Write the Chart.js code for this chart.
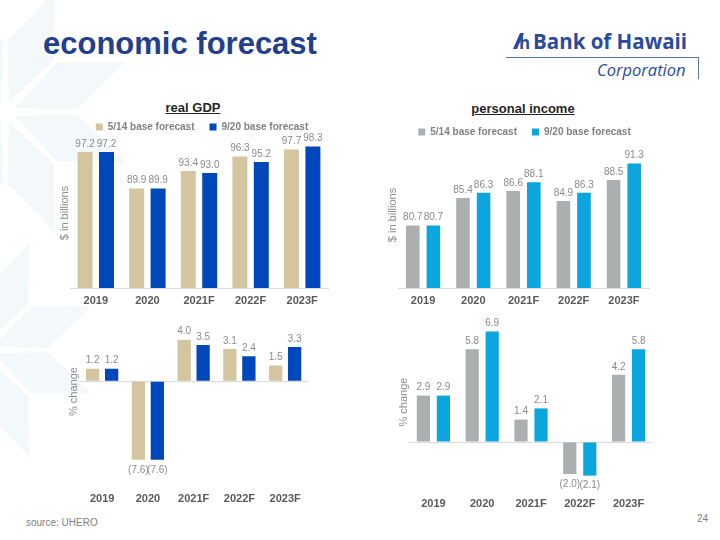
<!DOCTYPE html>
<html>
<head>
<meta charset="utf-8">
<script src="https://cdn.jsdelivr.net/npm/chart.js@4.4.0/dist/chart.umd.min.js"></script>
<style>
  body { margin: 0; background: #fff; }
  #page { position: relative; width: 720px; height: 540px; overflow: hidden; font-family: "Liberation Sans", Arial, sans-serif; }
  canvas { position: absolute; }
  .abs { position: absolute; white-space: nowrap; }
  .ctitle { font-weight: bold; font-size: 13px; color: #262626; text-decoration: underline; transform: translateX(-50%); }
</style>
</head>
<body>
<div id="page">
  <svg id="deco" class="abs" style="left:0; top:0;" width="200" height="460"></svg>

  <div class="abs" style="left:43px; top:26px; font-size:31px; font-weight:bold; color:#233e8b;">economic forecast</div>

  <!-- logo -->
  <svg class="abs" style="left:511px; top:31px;" width="22" height="20">
    <polygon points="2,18 6,18 13,2 9,2" fill="#2a4b9b"/>
    <text x="8" y="18" font-family="Open Sans" font-weight="bold" font-size="17" fill="#2a4b9b">h</text>
  </svg>
  <div class="abs" style="left:533px; top:27px; font-family:'Open Sans'; font-weight:bold; font-size:20.5px; color:#2a4b9b;">Bank of Hawaii</div>
  <div class="abs" style="left:506px; top:57px; width:192px; height:1px; background:#5a74ad;"></div>
  <div class="abs" style="left:698px; top:57px; width:1px; height:22px; background:#5a74ad;"></div>
  <div class="abs" style="left:597px; top:58px; font-family:'Open Sans'; font-style:italic; font-size:16.5px; color:#2a4b9b;">Corporation</div>

  <div class="abs ctitle" style="left:193px; top:100px;">real GDP</div>
  <div class="abs ctitle" style="left:523px; top:101px;">personal income</div>

  <canvas id="gdp" width="278" height="203" style="left:54px; top:107px;"></canvas>
  <canvas id="inc" width="271" height="198" style="left:382px; top:112px;"></canvas>
  <canvas id="gdpChg" width="267" height="203" style="left:62px; top:305px;"></canvas>
  <canvas id="incChg" width="264" height="213" style="left:393px; top:300px;"></canvas>

  <div class="abs" style="left:26px; top:517px; font-size:10px; color:#7f7f7f;">source: UHERO</div>
  <div class="abs" style="left:697px; top:513px; font-size:10px; color:#7f7f7f;">24</div>
</div>
<script>
// categories and series
const years = ["2019", "2020", "2021F", "2022F", "2023F"];
const seriesNames = ["5/14 base forecast", "9/20 base forecast"];

const gdpMay = [97.2, 89.9, 93.4, 96.3, 97.7];
const gdpSep = [97.2, 89.9, 93.0, 95.2, 98.3];
const gdpChgMay = [1.2, -7.6, 4.0, 3.1, 1.5];
const gdpChgSep = [1.2, -7.6, 3.5, 2.4, 3.3];

const incMay = [80.7, 85.4, 86.6, 84.9, 88.5];
const incSep = [80.7, 86.3, 88.1, 86.3, 91.3];
const incChgMay = [2.9, 5.8, 1.4, -2.0, 4.2];
const incChgSep = [2.9, 6.9, 2.1, -2.1, 5.8];

// faint star pattern in the corner of the slide
(function () {
    const svg = document.getElementById("deco");
    let html = "";
    [[5, 112, 130], [-15, 350, 115]].forEach(([cx, cy, R]) => {
        for (let k = 0; k < 8; k++) {
            const t = k * Math.PI / 4 - Math.PI / 8;
            const d = 0.36, r = R * 0.55, r0 = R * 0.08;
            const p = [
                [cx + r0 * Math.cos(t), cy + r0 * Math.sin(t)],
                [cx + r * Math.cos(t - d), cy + r * Math.sin(t - d)],
                [cx + R * Math.cos(t), cy + R * Math.sin(t)],
                [cx + r * Math.cos(t + d), cy + r * Math.sin(t + d)]
            ];
            html += '<polygon fill="#f3f8fa" points="' + p.map(q => q.join(",")).join(" ") + '"/>';
        }
    });
    svg.innerHTML = html;
})();

Chart.defaults.font.family = '"Liberation Sans", Arial, sans-serif';
Chart.defaults.animation = false;

// numbers over / under the bars
const valueLabels = {
    id: "valueLabels",
    afterDatasetsDraw(chart) {
        const ctx = chart.ctx;
        ctx.save();
        ctx.font = '10px "Liberation Sans", Arial, sans-serif';
        ctx.fillStyle = "#8a8a8a";
        ctx.textAlign = "center";
        chart.data.datasets.forEach((ds, i) => {
            chart.getDatasetMeta(i).data.forEach((bar, j) => {
                const v = ds.data[j];
                if (v >= 0) {
                    ctx.textBaseline = "bottom";
                    ctx.fillText(v.toFixed(1), bar.x, bar.y - 3);
                } else {
                    ctx.textBaseline = "top";
                    ctx.fillText("(" + Math.abs(v).toFixed(1) + ")", bar.x, bar.y + 5);
                }
            });
        });
        ctx.restore();
    }
};

// nudge the legend row sideways
const legendShift = {
    id: "legendShift",
    afterLayout(chart, args, opts) {
        if (chart.legend && opts.dx) {
            chart.legend.left += opts.dx;
            chart.legend.right += opts.dx;
        }
    }
};

function barChart(id, a, b, colors, o) {
    return new Chart(document.getElementById(id), {
        type: "bar",
        data: {
            labels: years,
            datasets: [
                { label: seriesNames[0], data: a, backgroundColor: colors[0],
                  barPercentage: o.barPct, categoryPercentage: o.catPct },
                { label: seriesNames[1], data: b, backgroundColor: colors[1],
                  barPercentage: o.barPct, categoryPercentage: o.catPct }
            ]
        },
        options: {
            responsive: false,
            layout: { padding: { top: o.padTop, right: 4, left: 0, bottom: 0 } },
            plugins: {
                tooltip: { enabled: false },
                legendShift: { dx: o.legendDx || 0 },
                legend: {
                    display: o.legend,
                    maxHeight: o.legendH,
                    labels: {
                        boxWidth: 7, boxHeight: 7, padding: 15,
                        color: "#808080",
                        font: { size: 10, weight: "bold" }
                    }
                }
            },
            scales: {
                x: {
                    grid: { display: false, drawTicks: false, tickLength: 0 },
                    border: { display: !o.zero, color: "#d9d9d9" },
                    ticks: { color: "#595959", font: { size: 11, weight: "bold" }, padding: o.xPad },
                    afterFit: s => { s.height = o.xPad + 16; }
                },
                y: {
                    min: o.min, max: o.max,
                    ticks: { display: false, stepSize: o.step },
                    border: { display: false },
                    grid: {
                        display: o.zero,
                        drawTicks: false,
                        color: c => (c.tick && c.tick.value === 0) ? "#d9d9d9" : "rgba(0,0,0,0)"
                    },
                    title: { display: true, text: o.yTitle, color: "#8c8c8c",
                             font: { size: 11 }, padding: { top: 4, bottom: 0 } },
                    afterFit: s => { s.width = 16; }
                }
            }
        },
        plugins: [valueLabels, legendShift]
    });
}

const gdpColors = ["#d3c69e", "#0047bb"];
const incColors = ["#abafb0", "#0ca6de"];

barChart("gdp", gdpMay, gdpSep, gdpColors,
    { min: 70, max: 100, step: 5, legend: true, legendH: 31, legendDx: 11, zero: false,
      yTitle: "$ in billions", xPad: 6, padTop: 0, barPct: 0.7, catPct: 0.83 });
barChart("inc", incMay, incSep, incColors,
    { min: 70, max: 95, step: 5, legend: true, legendH: 30, legendDx: 9, zero: false,
      yTitle: "$ in billions", xPad: 6, padTop: 0, barPct: 0.66, catPct: 0.82 });
barChart("gdpChg", gdpChgMay, gdpChgSep, gdpColors,
    { min: -8, max: 6, step: 2, legend: false, zero: true, yTitle: "% change",
      xPad: 28, padTop: 14, barPct: 0.7, catPct: 0.83 });
barChart("incChg", incChgMay, incChgSep, incColors,
    { min: -3, max: 8, step: 1, legend: false, zero: true, yTitle: "% change",
      xPad: 7, padTop: 14, barPct: 0.66, catPct: 0.82 });
</script>
</body>
</html>
